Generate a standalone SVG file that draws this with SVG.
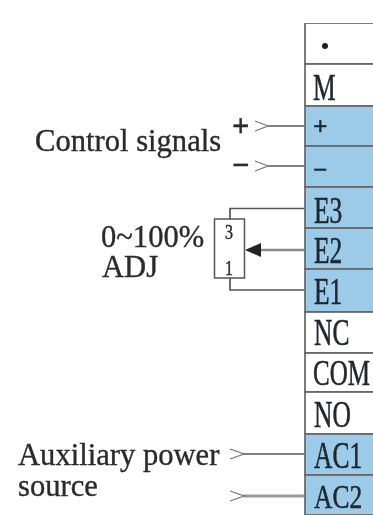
<svg xmlns="http://www.w3.org/2000/svg" width="373" height="515" viewBox="0 0 373 515">
<defs>
<filter id="soft" x="0" y="0" width="100%" height="100%" filterUnits="objectBoundingBox"><feGaussianBlur stdDeviation="0.55"/></filter>
<style>
text{font-family:"Liberation Serif","Times New Roman",serif;fill:#2a2a2a;stroke:#2a2a2a;stroke-width:.35;font-size:30.600px}
.t{font-size:25.500px;fill:#20282e;stroke:#20282e}
.d{font-size:16px;text-anchor:middle}
.cell{stroke:#666;stroke-width:1.7;fill:#fff}
.blue{fill:#9ccbea}
.w{stroke:#555;stroke-width:1.7;fill:none}
.chev{stroke:#777;stroke-width:1.3;fill:none}
</style>
</defs>
<rect width="373" height="515" fill="#fff"/>
<g filter="url(#soft)">
<g id="connectors">
<path class="w" d="M268 126H305"/><path class="w" d="M268 166H305"/>
<path class="w" d="M230 219V208.500H305"/>
<path class="w" d="M230 278V290H305"/>
<path d="M250 250H305" stroke="#8a8a8a" stroke-width="2.500" fill="none"/>
<path d="M245 250L261 243V257Z" fill="#222"/>
<path class="w" d="M243 454H305"/>
<path d="M243 496H305" stroke="#999" stroke-width="2.800" fill="none"/>
<path class="chev" d="M255 121L268 126L255 131"/>
<path class="chev" d="M255 161L268 166L255 171"/>
<path class="chev" d="M230 449L244 454L230 459"/>
<path class="chev" d="M230 491L244 496L230 501"/>
</g>
<g id="terminal-dot"><rect class="cell" x="305" y="23" width="70" height="41"/><circle cx="325" cy="46" r="3" fill="#222"/></g>
<g id="terminal-M"><rect class="cell" x="305" y="64" width="70" height="42"/><text class="t" transform="translate(313 100) scale(1 1.45)">M</text></g>
<g id="terminal-plus"><rect class="cell blue" x="305" y="106" width="70" height="40"/><text class="t" transform="translate(313 135)" style="font-weight:bold">+</text></g>
<g id="terminal-minus"><rect class="cell blue" x="305" y="146" width="70" height="41"/><text class="t" transform="translate(313 178)" style="font-weight:bold">−</text></g>
<g id="terminal-E3"><rect class="cell blue" x="305" y="187" width="70" height="41"/><text class="t" transform="translate(314 223) scale(1 1.45)">E3</text></g>
<g id="terminal-E2"><rect class="cell blue" x="305" y="228" width="70" height="41"/><text class="t" transform="translate(314 263) scale(1 1.45)">E2</text></g>
<g id="terminal-E1"><rect class="cell blue" x="305" y="269" width="70" height="43"/><text class="t" transform="translate(314 304) scale(1 1.45)">E1</text></g>
<g id="terminal-NC"><rect class="cell" x="305" y="312" width="70" height="41"/><text class="t" transform="translate(314 345) scale(1 1.45)">NC</text></g>
<g id="terminal-COM"><rect class="cell" x="305" y="353" width="70" height="39"/><text class="t" transform="translate(313 385) scale(1 1.4)" style="font-size:25px">COM</text></g>
<g id="terminal-NO"><rect class="cell" x="305" y="392" width="70" height="42"/><text class="t" transform="translate(314 427) scale(1 1.45)">NO</text></g>
<g id="terminal-AC1"><rect class="cell blue" x="305" y="434" width="70" height="41"/><text class="t" transform="translate(314 468) scale(1 1.45)">AC1</text></g>
<g id="terminal-AC2"><rect class="cell blue" x="305" y="475" width="70" height="40"/><text class="t" transform="translate(314 507.500) scale(1 1.28)">AC2</text></g>
<g id="potentiometer"><rect x="214.500" y="219" width="30" height="59" fill="#fff" stroke="#555" stroke-width="1.500"/><text class="d" transform="translate(229 239) scale(1 1.35)">3</text><text class="d" transform="translate(229 275) scale(1 1.35)">1</text></g>
<g id="labels">
<text x="35" y="151">Control signals</text>
<text x="232" y="136" style="font-weight:bold">+</text>
<text x="232" y="175" style="font-weight:bold">−</text>
<text x="101" y="247">0~100%</text>
<text x="102" y="277">ADJ</text>
<text x="18" y="465">Auxiliary power</text>
<text x="18" y="496">source</text>
</g>
</g>
</svg>
